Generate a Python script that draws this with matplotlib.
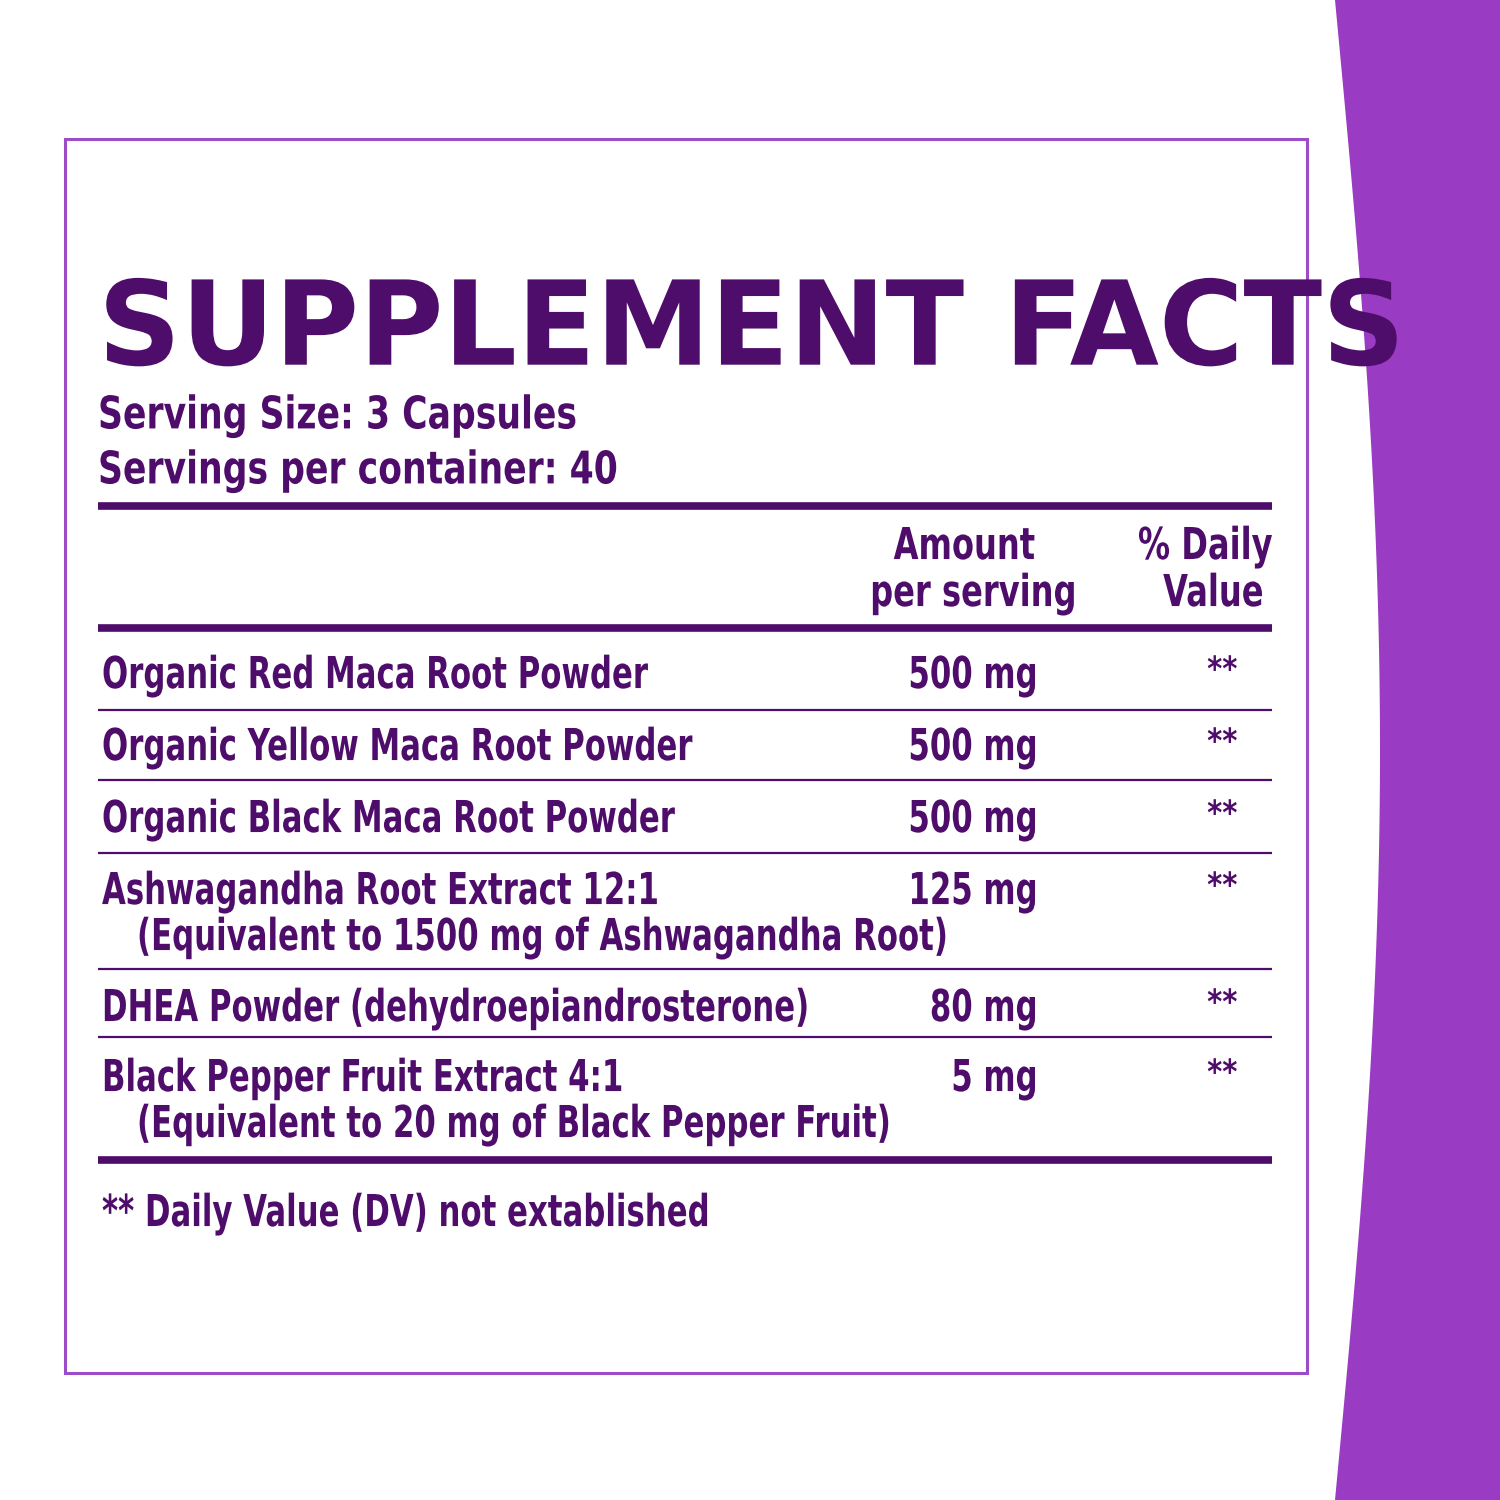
import numpy as np
import matplotlib.pyplot as plt
from matplotlib.patches import Rectangle, PathPatch
from matplotlib.textpath import TextPath
from matplotlib.font_manager import FontProperties
from matplotlib.transforms import Affine2D

# -------------------------
# Data
# -------------------------
TITLE = "SUPPLEMENT FACTS"
SERVING_LINES = ["Serving Size: 3 Capsules", "Servings per container: 40"]
INGREDIENTS = [
    "Organic Red Maca Root Powder",
    "Organic Yellow Maca Root Powder",
    "Organic Black Maca Root Powder",
    "Ashwagandha Root Extract 12:1",
    "DHEA Powder (dehydroepiandrosterone)",
    "Black Pepper Fruit Extract 4:1",
]
SUBNOTES = ["", "", "", "(Equivalent to 1500 mg of Ashwagandha Root)", "",
            "(Equivalent to 20 mg of Black Pepper Fruit)"]
AMOUNTS = ["500 mg", "500 mg", "500 mg", "125 mg", "80 mg", "5 mg"]
DAILY = ["**"] * 6
FOOTNOTE = "** Daily Value (DV) not extablished"

# -------------------------
# Style
# -------------------------
DARK = "#4F0D6B"
BAND = "#9A3BC3"
BOX = "#9D4CC8"
PROP = FontProperties(family="DejaVu Sans", weight="bold")
ROW_Y = [672, 744, 816, 888, 1005, 1075]
SEP_Y = [710, 780, 853, 969, 1037]

fig = plt.figure(figsize=(15, 15), dpi=100, facecolor="white")
ax = fig.add_axes([0, 0, 1, 1])
ax.set_xlim(0, 1500)
ax.set_ylim(1500, 0)
ax.axis("off")


def ctext(x, y, s, size=44, sx=0.70, ha="left"):
    """Condensed text: y is the visual centre of capitals, in pixels."""
    path = TextPath((0, 0), s, size=size, prop=PROP)
    ext = path.get_extents()
    w = ext.x1 * sx
    x0 = {"left": x, "right": x - w, "center": x - w / 2}[ha]
    base = y + 0.365 * size
    tr = Affine2D().scale(sx, -1).translate(x0, base)
    ax.add_patch(PathPatch(tr.transform_path(path), fc=DARK, ec="none"))


# right purple band
yy = np.linspace(0, 1500, 200)
xx = 1335 + 45 * np.sin(np.pi * yy / 1500)
ax.fill_betweenx(yy, xx, 1500, color=BAND, lw=0)

# box
ax.add_patch(Rectangle((65, 139), 1242, 1234, fill=False, ec=BOX, lw=2.2))

# title
ctext(98, 322, TITLE, size=117, sx=0.985)

for i, s in enumerate(SERVING_LINES):
    ctext(98, 412 + 55 * i, s, size=45, sx=0.77)

# rules
for y, lw in [(506, 5.5), (628, 5.5), (1160, 5.5)]:
    ax.plot([98, 1272], [y, y], color=DARK, lw=lw, solid_capstyle="butt")
for y in SEP_Y:
    ax.plot([98, 1272], [y, y], color=DARK, lw=1.6, solid_capstyle="butt")

# header
ctext(964, 543, "Amount", sx=0.73, ha="center")
ctext(972, 590, "per serving", sx=0.73, ha="center")
ctext(1272, 543, "% Daily", sx=0.73, ha="right")
ctext(1262, 590, "Value", sx=0.73, ha="right")

# rows
for y, name, sub, amt, dv in zip(ROW_Y, INGREDIENTS, SUBNOTES, AMOUNTS, DAILY):
    ctext(102, y, name)
    if sub:
        ctext(137, y + 46, sub)
    ctext(1035, y, amt, ha="right")
    ctext(1222, y - 4, dv, size=34, sx=0.85, ha="center")

ctext(102, 1210, FOOTNOTE)

fig.savefig("out.png", dpi=100, facecolor="white")
